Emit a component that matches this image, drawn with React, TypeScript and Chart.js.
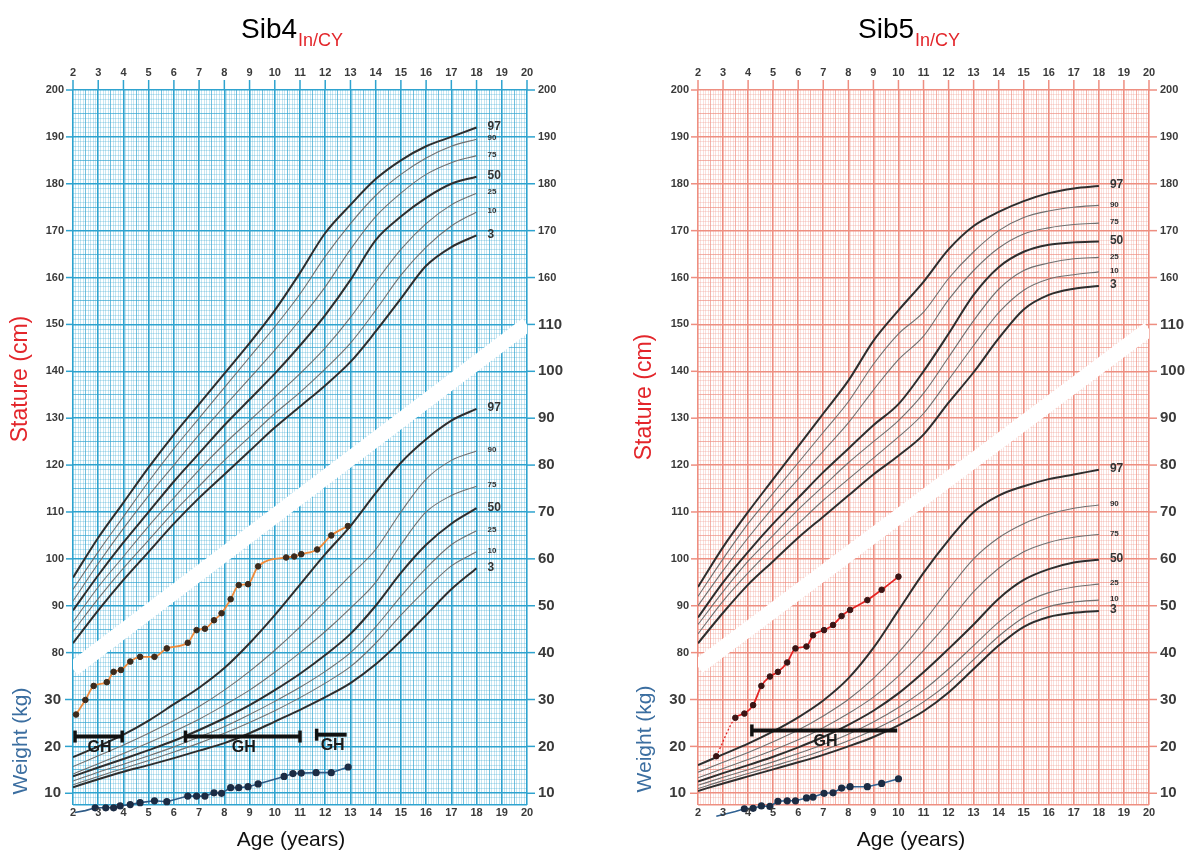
import React, { useEffect, useRef } from "react";
import { Chart, registerables } from "chart.js";

Chart.register(...registerables);

// ---------- shared ----------
const AGES = [2, 3, 4, 5, 6, 7, 8, 9, 10, 11, 12, 13, 14, 15, 16, 17, 18];
const PCT_LABELS = ["97", "90", "75", "50", "25", "10", "3"];
const AGE_TICKS = [2, 3, 4, 5, 6, 7, 8, 9, 10, 11, 12, 13, 14, 15, 16, 17, 18, 19, 20];
const LEFT_STATURE_TICKS = [200, 190, 180, 170, 160, 150, 140, 130, 120, 110, 100, 90, 80];
const LEFT_WEIGHT_TICKS = [30, 20, 10];
const RIGHT_STATURE_TICKS = [200, 190, 180, 170, 160];
const RIGHT_WEIGHT_TICKS = [110, 100, 90, 80, 70, 60, 50, 40, 30, 20, 10];
const BAND_AGES = [2, 20];

// ---------- Sib4 (blue chart) percentile curves ----------
const B_STAT_97 = [96, 104.5, 112, 119.5, 126.5, 133, 139.5, 146, 153, 161, 169.5, 175.5, 181, 185, 188, 190, 192];
const B_STAT_90 = [93.5, 101.5, 109, 116.5, 123.5, 130, 136.5, 143, 149.5, 156.5, 164.5, 171.5, 177.5, 182, 185.5, 188, 189.5];
const B_STAT_75 = [91, 99, 106.5, 113.5, 120, 126.5, 132.5, 138.5, 144.5, 151, 158, 166, 173, 178, 182, 184.5, 186];
const B_STAT_50 = [89, 96.5, 103.5, 110, 116.5, 122.5, 128.5, 134, 139.5, 145.5, 152, 159.5, 168, 173, 177, 180, 181.5];
const B_STAT_25 = [86.5, 94, 100.5, 107, 113, 119, 124.5, 129.5, 134.5, 139.5, 145, 151.5, 159, 166, 171.5, 175.5, 178];
const B_STAT_10 = [84.5, 91.5, 98, 104, 110, 115.5, 121, 126, 131, 135.5, 140.5, 146, 153, 160.5, 166.5, 171, 174];
const B_STAT_3 = [82, 89, 95.5, 101.5, 107.5, 113, 118, 123, 128, 132.5, 137, 142, 148.5, 155.5, 162.5, 166.5, 169];

const B_WT_97 = [17.7, 20, 22.5, 25.5, 29, 32.5, 36.7, 42, 48, 54.5, 61, 67, 74, 80.5, 85.5, 89.5, 92];
const B_WT_90 = [15.7, 18, 20.3, 22.8, 25.5, 28.5, 32, 36, 40.5, 45.5, 51, 56.5, 62, 70, 77, 81, 83];
const B_WT_75 = [14.1, 16.3, 18.5, 20.8, 23.2, 25.8, 28.8, 32, 35.8, 40, 44.5, 49.5, 55, 63, 70, 73.5, 75.5];
const B_WT_50 = [13.6, 15.5, 17.3, 19.2, 21.2, 23.5, 26, 28.8, 32, 35.5, 39.5, 44, 50, 57, 63, 67.5, 70.8];
const B_WT_25 = [12.6, 14.5, 16.2, 18, 19.9, 22, 24.2, 26.8, 29.6, 32.6, 36, 40, 45.5, 52, 58, 63, 66];
const B_WT_10 = [11.8, 13.6, 15.3, 17, 18.8, 20.7, 22.8, 25.1, 27.6, 30.4, 33.5, 37, 42, 48, 53.5, 58.5, 61.5];
const B_WT_3 = [11.3, 13, 14.6, 16, 17.5, 19.1, 20.7, 22.8, 25.3, 27.8, 30.5, 33.5, 37.5, 42.5, 48, 53.5, 58];

// ---------- Sib5 (pink chart) percentile curves ----------
const G_STAT_97 = [94, 102.5, 110, 117, 124, 131, 138, 146.5, 153, 159.1, 166, 171, 174, 176.3, 178, 179, 179.5];
const G_STAT_90 = [92, 100, 107.5, 114, 120.5, 127, 133.5, 141.5, 148, 152.6, 159.8, 165.5, 170, 172.8, 174.2, 175, 175.4];
const G_STAT_75 = [90, 97.5, 104.5, 111, 117, 123, 129, 136, 142.5, 147.5, 155.3, 161.5, 166.3, 169.3, 170.6, 171.3, 171.6];
const G_STAT_50 = [87.5, 95, 101.5, 107.5, 113, 118.5, 123.5, 128.5, 133, 140, 148, 156.3, 162.2, 165.5, 167, 167.5, 167.7];
const G_STAT_25 = [86, 93, 99.5, 105, 110.5, 115.5, 120.5, 125, 129.5, 135.3, 143, 150.8, 157.5, 161.5, 163.1, 164, 164.3];
const G_STAT_10 = [84, 91, 97, 102.5, 107.5, 112.5, 117, 121.5, 126, 131, 138.2, 145.5, 152.5, 157.3, 159.7, 160.6, 161.2];
const G_STAT_3 = [82, 88.5, 94.5, 99.5, 104.5, 109, 113.5, 118, 122, 126.5, 133.3, 139.8, 147, 153.2, 156.3, 157.6, 158.2];

const G_WT_97 = [16, 18.3, 20.6, 23.2, 26.2, 29.8, 34.5, 41, 49, 57, 64, 70, 73.5, 75.5, 77, 78, 79];
const G_WT_90 = [14.5, 16.6, 18.7, 21, 23.5, 26.5, 30, 34.5, 40, 46.5, 53.5, 60, 64.5, 67.5, 69.5, 70.8, 71.5];
const G_WT_75 = [13.3, 15.3, 17.2, 19.2, 21.4, 24, 27, 30.5, 35, 40.5, 46.5, 53, 58, 61.5, 63.5, 64.6, 65.2];
const G_WT_50 = [12.5, 14.3, 16, 17.8, 19.8, 22, 24.6, 27.6, 31.3, 35.8, 40.8, 46, 51.5, 55.5, 57.8, 59.2, 59.8];
const G_WT_25 = [11.7, 13.4, 15, 16.7, 18.5, 20.4, 22.6, 25.2, 28.3, 32, 36.5, 41.5, 46.5, 50.5, 52.8, 54, 54.6];
const G_WT_10 = [11, 12.7, 14.2, 15.8, 17.4, 19.2, 21.2, 23.5, 26.2, 29.5, 33.5, 38.5, 43.5, 47.5, 49.8, 50.8, 51.2];
const G_WT_3 = [10.5, 12.1, 13.6, 15.1, 16.6, 18.2, 20, 22, 24.5, 27.5, 31.5, 36.5, 41.5, 45.5, 47.6, 48.5, 48.9];

// ---------- patient measurements ----------
const SIB4_STAT_AGES = [2.12, 2.49, 2.82, 3.34, 3.61, 3.9, 4.27, 4.66, 5.23, 5.72, 6.55, 6.9, 7.23, 7.59, 7.89, 8.25, 8.57, 8.94, 9.34, 10.45, 10.77, 11.05, 11.68, 12.24, 12.9];
const SIB4_STAT_CM = [66.8, 69.9, 72.9, 73.7, 75.9, 76.3, 78.1, 79.1, 79.1, 80.9, 82.1, 84.8, 85.1, 86.9, 88.4, 91.4, 94.4, 94.6, 98.4, 100.3, 100.5, 101, 102, 105, 107];
const SIB4_WT_AGES = [2.07, 2.49, 2.88, 3.3, 3.61, 3.87, 4.27, 4.66, 5.23, 5.72, 6.55, 6.9, 7.23, 7.59, 7.89, 8.25, 8.57, 8.94, 9.34, 10.37, 10.72, 11.05, 11.64, 12.24, 12.91];
const SIB4_WT_KG = [5.9, 6.3, 6.9, 6.9, 6.9, 7.3, 7.6, 8.0, 8.4, 8.2, 9.4, 9.4, 9.4, 10.1, 10.0, 11.2, 11.2, 11.4, 12.0, 13.6, 14.2, 14.3, 14.4, 14.4, 15.6];
const SIB4_GH_FROM = [2.08, 6.46, 11.66];
const SIB4_GH_TO = [3.95, 11.0, 12.85];
const SIB4_GH_KG = [22.1, 22.1, 22.5];
const SIB4_GH_CAP_END = [true, true, false];
const SIB4_BAND_CM = [76.5, 150];

const SIB5_STAT_AGES = [2.73, 3.49, 3.85, 4.2, 4.53, 4.87, 5.19, 5.56, 5.89, 6.33, 6.59, 7.03, 7.39, 7.73, 8.07, 8.76, 9.33, 10.0];
const SIB5_STAT_CM = [57.9, 66.1, 67.0, 68.8, 72.9, 74.9, 75.9, 77.9, 80.9, 81.3, 83.7, 84.8, 85.9, 87.8, 89.1, 91.2, 93.4, 96.2];
const SIB5_WT_AGES = [2.73, 3.49, 3.85, 4.2, 4.53, 4.87, 5.19, 5.56, 5.89, 6.33, 6.59, 7.03, 7.39, 7.73, 8.07, 8.76, 9.33, 10.0];
const SIB5_WT_KG = [5.1, 6.1, 6.7, 6.8, 7.3, 7.2, 8.3, 8.4, 8.4, 9.0, 9.2, 10.0, 10.1, 11.1, 11.4, 11.4, 12.1, 13.1];
const SIB5_GH_FROM = [4.15];
const SIB5_GH_TO = [9.95];
const SIB5_GH_KG = [23.4];
const SIB5_GH_CAP_END = [false];
const SIB5_BAND_CM = [77, 149];

const FONT = '"Liberation Sans", Arial, Helvetica, sans-serif';
const f = (size: number, bold = true) => `${bold ? "bold " : ""}${size}px ${FONT}`;

const PANEL_W = 596;
const PANEL_H = 855;
const Y_MIN = 47.5;
const Y_MAX = 200;
const W_OFFSET = 40; // weight grid (kg) shares the stature grid, shifted by 40

type Panel = {
  title: string;
  titleX: number;
  padLeft: number;
  padRight: number;
  major: string;
  mid: string;
  minor: string;
  statCurves: number[][];
  wtCurves: number[][];
  statAges: number[];
  statCm: number[];
  wtAges: number[];
  wtKg: number[];
  lineColor: string;
  pointColor: string;
  wtLineColor: string;
  dottedFirst: boolean;
  ghFrom: number[];
  ghTo: number[];
  ghKg: number[];
  ghCapEnd: boolean[];
  band: number[];
  axisTitleX: number;
  statTitleY: number;
  wtTitleY: number;
  ageTitleX: number;
};

const toXY = (xs: number[], ys: number[]) => xs.map((x, i) => ({ x, y: ys[i] }));

function buildChart(canvas: HTMLCanvasElement, p: Panel) {
  const datasets: any[] = [];
  datasets.push({
    data: toXY(BAND_AGES, p.band),
    yAxisID: "y",
    borderColor: "#ffffff",
    borderWidth: 15,
    pointRadius: 0,
    borderCapStyle: "butt",
    order: 20,
  });
  p.statCurves.forEach((arr, i) => {
    const dark = i === 0 || i === 3 || i === 6;
    datasets.push({
      data: toXY(AGES, arr),
      yAxisID: "y",
      borderColor: dark ? "#2e2e2e" : "#707070",
      borderWidth: dark ? 2 : 1.1,
      pointRadius: 0,
      cubicInterpolationMode: "monotone",
      pctLabel: PCT_LABELS[i],
      order: 5,
    });
  });
  p.wtCurves.forEach((arr, i) => {
    const dark = i === 0 || i === 3 || i === 6;
    datasets.push({
      data: toXY(AGES, arr),
      yAxisID: "yW",
      borderColor: dark ? "#2e2e2e" : "#707070",
      borderWidth: dark ? 2 : 1.1,
      pointRadius: 0,
      cubicInterpolationMode: "monotone",
      pctLabel: PCT_LABELS[i],
      order: 5,
    });
  });
  p.ghFrom.forEach((from, i) => {
    datasets.push({
      data: [
        { x: from, y: p.ghKg[i] },
        { x: p.ghTo[i], y: p.ghKg[i] },
      ],
      yAxisID: "yW",
      borderColor: "#111111",
      borderWidth: 4,
      pointStyle: "line",
      rotation: 90,
      pointRadius: [6, p.ghCapEnd[i] ? 6 : 0],
      pointBorderWidth: 3.5,
      pointBorderColor: "#111111",
      ghLabel: true,
      order: 3,
    });
  });
  datasets.push({
    data: toXY(p.statAges, p.statCm),
    yAxisID: "y",
    borderColor: p.lineColor,
    borderWidth: 1.8,
    pointRadius: 2.8,
    pointBackgroundColor: p.pointColor,
    pointBorderColor: p.pointColor,
    pointBorderWidth: 1,
    cubicInterpolationMode: "monotone",
    clip: false,
    segment: p.dottedFirst
      ? { borderDash: (ctx: any) => (ctx.p0DataIndex === 0 ? [2, 2] : undefined), borderWidth: (ctx: any) => (ctx.p0DataIndex === 0 ? 1.3 : 1.8) }
      : undefined,
    order: 1,
  });
  datasets.push({
    data: toXY(p.wtAges, p.wtKg),
    yAxisID: "yW",
    borderColor: p.wtLineColor,
    borderWidth: 1.6,
    pointRadius: 2.8,
    pointBackgroundColor: "#1c2c44",
    pointBorderColor: "#1c2c44",
    clip: false,
    order: 1,
  });

  const gridColor = (kind: string) => (kind === "major" ? p.major : kind === "mid" ? p.mid : p.minor);
  const xKind = (v: number) => {
    const t = Math.round(v * 10);
    if (t % 10 === 0) return "major";
    if (t % 5 === 0) return "mid";
    return "minor";
  };
  const yKind = (v: number) => {
    const t = Math.round(v * 2);
    if (t % 2 !== 0) return "major";
    const n = t / 2;
    if (n % 10 === 0) return "major";
    if (n % 5 === 0) return "mid";
    return "minor";
  };
  const widthOf = (k: string) => (k === "major" ? 1.6 : k === "mid" ? 0.9 : 0.55);

  const decor = {
    id: "decor",
    afterDraw(chart: any) {
      const { ctx, chartArea: a } = chart;
      const xs = chart.scales.x;
      const ys = chart.scales.y;
      const yw = chart.scales.yW;
      ctx.save();
      ctx.strokeStyle = p.major;
      ctx.lineWidth = 1.5;
      const seg = (x1: number, y1: number, x2: number, y2: number) => {
        ctx.beginPath();
        ctx.moveTo(x1, y1);
        ctx.lineTo(x2, y2);
        ctx.stroke();
      };
      AGE_TICKS.forEach((v) => {
        const x = xs.getPixelForValue(v);
        seg(x, a.top, x, a.top - 10);
      });
      LEFT_STATURE_TICKS.forEach((v) => {
        const y = ys.getPixelForValue(v);
        seg(a.left, y, a.left - 7, y);
      });
      LEFT_WEIGHT_TICKS.forEach((v) => {
        const y = yw.getPixelForValue(v);
        seg(a.left, y, a.left - 8, y);
      });
      RIGHT_STATURE_TICKS.forEach((v) => {
        const y = ys.getPixelForValue(v);
        seg(a.right, y, a.right + 8, y);
      });
      RIGHT_WEIGHT_TICKS.forEach((v) => {
        const y = yw.getPixelForValue(v);
        seg(a.right, y, a.right + 8, y);
      });

      ctx.fillStyle = "#3a3a3a";
      ctx.textBaseline = "middle";
      ctx.textAlign = "center";
      ctx.font = f(11);
      AGE_TICKS.forEach((v) => {
        const x = xs.getPixelForValue(v);
        ctx.fillText(String(v), x, a.top - 17);
        ctx.fillText(String(v), x, a.bottom + 8);
      });
      ctx.textAlign = "right";
      LEFT_STATURE_TICKS.forEach((v) => {
        ctx.fillText(String(v), a.left - 9, ys.getPixelForValue(v));
      });
      ctx.font = f(15);
      LEFT_WEIGHT_TICKS.forEach((v) => {
        ctx.fillText(String(v), a.left - 12, yw.getPixelForValue(v));
      });
      ctx.textAlign = "left";
      ctx.font = f(11);
      RIGHT_STATURE_TICKS.forEach((v) => {
        ctx.fillText(String(v), a.right + 11, ys.getPixelForValue(v));
      });
      ctx.font = f(15);
      RIGHT_WEIGHT_TICKS.forEach((v) => {
        ctx.fillText(String(v), a.right + 11, yw.getPixelForValue(v));
      });

      chart.data.datasets.forEach((ds: any, i: number) => {
        if (!ds.pctLabel) return;
        const meta = chart.getDatasetMeta(i);
        const last = meta.data[meta.data.length - 1];
        const big = ds.pctLabel === "97" || ds.pctLabel === "50" || ds.pctLabel === "3";
        ctx.font = big ? f(12) : f(8);
        ctx.fillStyle = "#333";
        ctx.fillText(ds.pctLabel, last.x + 11, last.y - 1);
      });

      ctx.font = f(16);
      ctx.textAlign = "center";
      ctx.fillStyle = "#1a1a1a";
      chart.data.datasets.forEach((ds: any, i: number) => {
        if (!ds.ghLabel) return;
        const meta = chart.getDatasetMeta(i);
        const e0 = meta.data[0];
        const e1 = meta.data[1];
        ctx.fillText("GH", (e0.x + e1.x) / 2 + 1, e0.y + 11);
      });

      ctx.textAlign = "left";
      ctx.textBaseline = "alphabetic";
      ctx.fillStyle = "#000";
      ctx.font = f(28, false);
      ctx.fillText(p.title, p.titleX, 38);
      const tw = ctx.measureText(p.title).width;
      ctx.fillStyle = "#e3262b";
      ctx.font = f(18, false);
      ctx.fillText("In/CY", p.titleX + tw + 1, 46);

      ctx.textAlign = "center";
      ctx.textBaseline = "middle";
      ctx.fillStyle = "#111";
      ctx.font = f(21, false);
      ctx.fillText("Age (years)", p.ageTitleX, 840);
      ctx.save();
      ctx.translate(p.axisTitleX, p.statTitleY);
      ctx.rotate(-Math.PI / 2);
      ctx.fillStyle = "#e3262b";
      ctx.font = f(23, false);
      ctx.fillText("Stature (cm)", 0, 0);
      ctx.restore();
      ctx.save();
      ctx.translate(p.axisTitleX, p.wtTitleY);
      ctx.rotate(-Math.PI / 2);
      ctx.fillStyle = "#3b6ea0";
      ctx.font = f(21, false);
      ctx.fillText("Weight (kg)", 0, 0);
      ctx.restore();
      ctx.restore();
    },
  };

  return new Chart(canvas, {
    type: "line",
    data: { datasets },
    options: {
      responsive: false,
      animation: false,
      events: [],
      layout: { padding: { left: p.padLeft, right: p.padRight, top: 90, bottom: PANEL_H - 805 } },
      plugins: { legend: { display: false }, tooltip: { enabled: false } },
      scales: {
        x: {
          type: "linear",
          min: 2,
          max: 20,
          position: "bottom",
          border: { display: false },
          ticks: { display: false, stepSize: 0.1, autoSkip: false },
          grid: {
            drawTicks: false,
            color: (c: any) => gridColor(xKind(c.tick.value)),
            lineWidth: (c: any) => widthOf(xKind(c.tick.value)),
          },
        },
        y: {
          type: "linear",
          min: Y_MIN,
          max: Y_MAX,
          position: "left",
          border: { display: false },
          ticks: { display: false, stepSize: 1, autoSkip: false },
          grid: {
            drawTicks: false,
            color: (c: any) => gridColor(yKind(c.tick.value)),
            lineWidth: (c: any) => widthOf(yKind(c.tick.value)),
          },
        },
        yW: {
          type: "linear",
          display: false,
          min: Y_MIN - W_OFFSET,
          max: Y_MAX - W_OFFSET,
          position: "right",
        },
      },
    } as any,
    plugins: [decor],
  });
}

const LEFT: Panel = {
  title: "Sib4",
  titleX: 241,
  padLeft: 73,
  padRight: PANEL_W - 527,
  major: "#2ea3cf",
  mid: "rgba(46,163,207,0.75)",
  minor: "rgba(46,163,207,0.5)",
  statCurves: [B_STAT_97, B_STAT_90, B_STAT_75, B_STAT_50, B_STAT_25, B_STAT_10, B_STAT_3],
  wtCurves: [B_WT_97, B_WT_90, B_WT_75, B_WT_50, B_WT_25, B_WT_10, B_WT_3],
  statAges: SIB4_STAT_AGES,
  statCm: SIB4_STAT_CM,
  wtAges: SIB4_WT_AGES,
  wtKg: SIB4_WT_KG,
  lineColor: "#ef8a3a",
  pointColor: "#3b2a1c",
  wtLineColor: "#2e5a86",
  dottedFirst: false,
  ghFrom: SIB4_GH_FROM,
  ghTo: SIB4_GH_TO,
  ghKg: SIB4_GH_KG,
  ghCapEnd: SIB4_GH_CAP_END,
  band: SIB4_BAND_CM,
  axisTitleX: 21,
  statTitleY: 379,
  wtTitleY: 741,
  ageTitleX: 291,
};

const RIGHT: Panel = {
  title: "Sib5",
  titleX: 262,
  padLeft: 102,
  padRight: PANEL_W - 553,
  major: "#ee8e80",
  mid: "rgba(238,142,128,0.75)",
  minor: "rgba(238,142,128,0.5)",
  statCurves: [G_STAT_97, G_STAT_90, G_STAT_75, G_STAT_50, G_STAT_25, G_STAT_10, G_STAT_3],
  wtCurves: [G_WT_97, G_WT_90, G_WT_75, G_WT_50, G_WT_25, G_WT_10, G_WT_3],
  statAges: SIB5_STAT_AGES,
  statCm: SIB5_STAT_CM,
  wtAges: SIB5_WT_AGES,
  wtKg: SIB5_WT_KG,
  lineColor: "#e42424",
  pointColor: "#3a1414",
  wtLineColor: "#2f6192",
  dottedFirst: true,
  ghFrom: SIB5_GH_FROM,
  ghTo: SIB5_GH_TO,
  ghKg: SIB5_GH_KG,
  ghCapEnd: SIB5_GH_CAP_END,
  band: SIB5_BAND_CM,
  axisTitleX: 49,
  statTitleY: 397,
  wtTitleY: 739,
  ageTitleX: 315,
};

function PanelCanvas({ cfg, left }: { cfg: Panel; left: number }) {
  const ref = useRef<HTMLCanvasElement | null>(null);
  useEffect(() => {
    if (!ref.current) return;
    const chart = buildChart(ref.current, cfg);
    return () => chart.destroy();
  }, [cfg]);
  return (
    <canvas
      ref={ref}
      width={PANEL_W}
      height={PANEL_H}
      style={{ position: "absolute", left, top: 0, width: PANEL_W, height: PANEL_H, display: "block" }}
    />
  );
}

export default function App() {
  return (
    <div style={{ position: "fixed", left: 0, top: 0, width: 1192, height: 855, background: "#fff", overflow: "hidden" }}>
      <PanelCanvas cfg={LEFT} left={0} />
      <PanelCanvas cfg={RIGHT} left={PANEL_W} />
    </div>
  );
}
